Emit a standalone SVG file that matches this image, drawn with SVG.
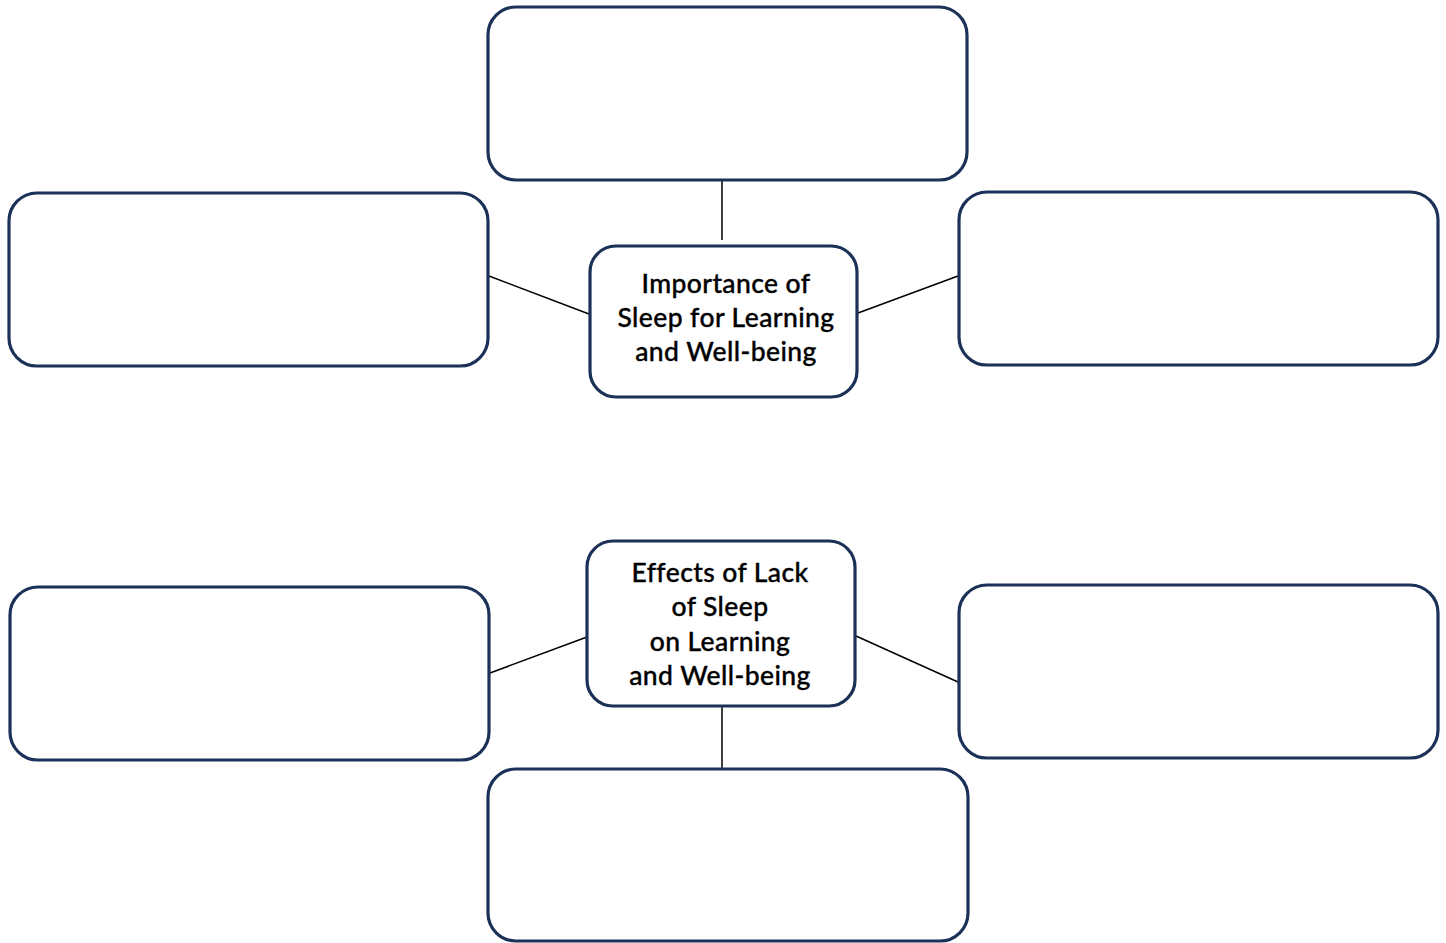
<svg xmlns="http://www.w3.org/2000/svg" width="1446" height="943" viewBox="0 0 1446 943">
<style>
.box{fill:#fff;stroke:#1b3157;stroke-width:3.2}
.con{stroke:#000;stroke-width:1.5;fill:none}
.lbl{font-family:Lato,"Noto Sans",sans-serif;font-size:26.5px;font-weight:500;fill:#000;text-anchor:middle;stroke:#000;stroke-width:0.35;letter-spacing:0.4px}
</style>
<rect width="1446" height="943" fill="#fff"/>
<g id="connectors">
<line class="con" x1="722" y1="180" x2="722" y2="240"/>
<line class="con" x1="489" y1="276" x2="589" y2="314"/>
<line class="con" x1="858" y1="313" x2="958" y2="276"/>
<line class="con" x1="490" y1="673" x2="587" y2="637"/>
<line class="con" x1="856" y1="636" x2="958" y2="682"/>
<line class="con" x1="722" y1="706" x2="722" y2="769"/>
</g>
<g id="top-box"><rect class="box" x="488" y="7" width="479" height="173" rx="28"/></g>
<g id="upper-left-box"><rect class="box" x="9" y="193" width="479" height="173" rx="28"/></g>
<g id="upper-right-box"><rect class="box" x="959" y="192" width="479" height="173" rx="28"/></g>
<g id="importance">
<rect class="box" x="590" y="246" width="267" height="151" rx="26"/>
<text class="lbl" x="726" y="293">Importance of</text>
<text class="lbl" x="726" y="327">Sleep for Learning</text>
<text class="lbl" x="726" y="361">and Well-being</text>
</g>
<g id="effects">
<rect class="box" x="587" y="541" width="268" height="165" rx="26"/>
<text class="lbl" x="720" y="582">Effects of Lack</text>
<text class="lbl" x="720" y="616">of Sleep</text>
<text class="lbl" x="720" y="651">on Learning</text>
<text class="lbl" x="720" y="685">and Well-being</text>
</g>
<g id="lower-left-box"><rect class="box" x="10" y="587" width="479" height="173" rx="28"/></g>
<g id="lower-right-box"><rect class="box" x="959" y="585" width="479" height="173" rx="28"/></g>
<g id="bottom-box"><rect class="box" x="488" y="769" width="480" height="172" rx="28"/></g>
</svg>
